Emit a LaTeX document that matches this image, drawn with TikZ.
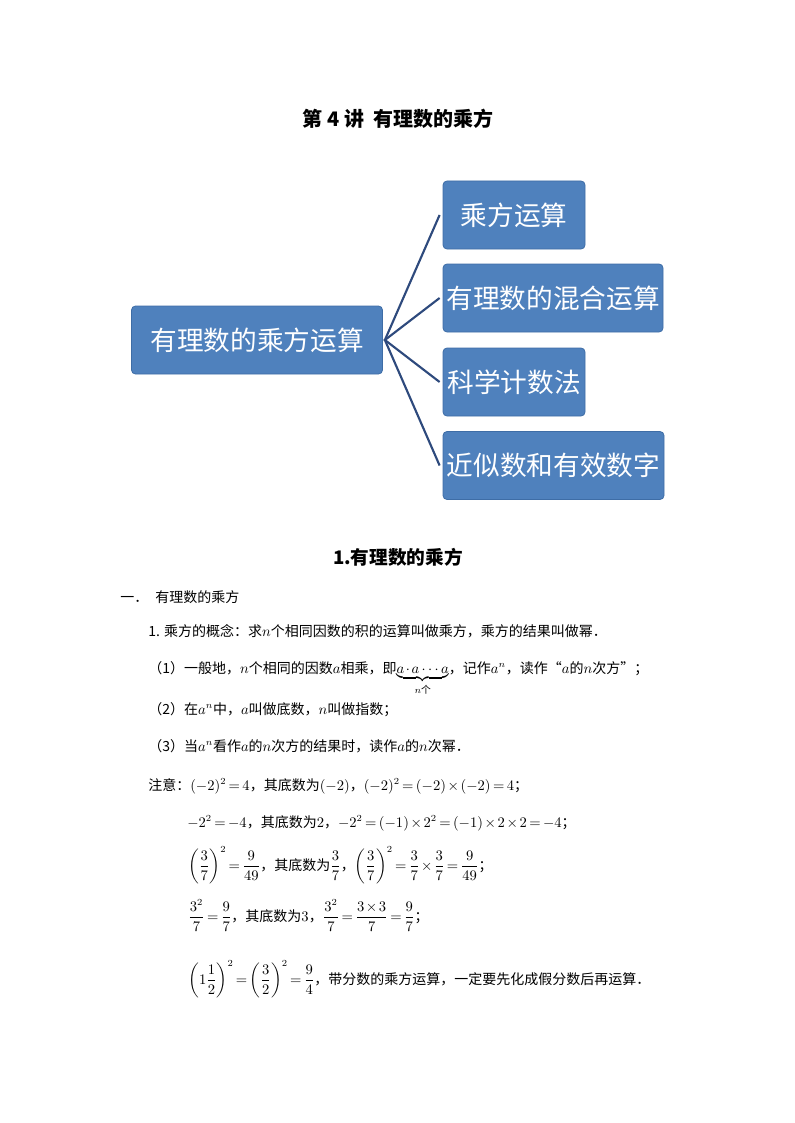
\documentclass[tikz,border=0pt]{standalone}
\usepackage{amsmath}
\usepackage{fontspec}
\setmainfont{Noto Sans CJK SC}
\usetikzlibrary{calc}
\definecolor{boxblue}{HTML}{4F81BD}
\definecolor{boxedge}{HTML}{3E6DA6}
\definecolor{linknavy}{HTML}{2E4A7D}
\tikzset{
  mapbox/.style={draw=boxedge, line width=0.6pt, fill=boxblue, rounded corners=3pt, text=white, font=\fontsize{20}{24}\selectfont, inner sep=0pt, align=center},
  link/.style={draw=linknavy, line width=1.6pt},
  body/.style={anchor=base west, inner sep=0pt, font=\fontsize{10.5}{13}\selectfont},
  heading/.style={inner sep=0pt, font=\bfseries\fontsize{14}{17}\selectfont}
}
\thickmuskip=3mu plus 1mu
\medmuskip=2mu plus 1mu
\begin{document}
\begin{tikzpicture}[x=0.75pt,y=-0.75pt]
\useasboundingbox (0,0) rectangle (794,1123);
\node[heading, font=\bfseries\fontsize{15}{18}\selectfont] (title) at (398,119) {第 4 讲\ \ 有理数的乘方};

% mind map
\node[mapbox, minimum width=251*0.75pt, minimum height=68*0.75pt] (root) at (257,340) {有理数的乘方运算};
\node[mapbox, minimum width=142*0.75pt, minimum height=68*0.75pt] (c1) at (514,215) {乘方运算};
\node[mapbox, minimum width=220*0.75pt, minimum height=68*0.75pt] (c2) at (553,298) {有理数的混合运算};
\node[mapbox, minimum width=142*0.75pt, minimum height=68*0.75pt] (c3) at (514,382) {科学计数法};
\node[mapbox, minimum width=221*0.75pt, minimum height=68*0.75pt] (c4) at (553.5,465.5) {近似数和有效数字};
\coordinate (e1) at ($(c1.west)+(-3,0)$);
\coordinate (e2) at ($(c2.west)+(-3,0)$);
\coordinate (e3) at ($(c3.west)+(-3,0)$);
\coordinate (e4) at ($(c4.west)+(-3,0)$);
\coordinate (s) at ($(root.east)+(2,0)$);
\draw[link] (e1) -- (s) -- (e4);
\draw[link] (e2) -- (s) -- (e3);

\node[heading] (sec) at (398,557) {1.有理数的乘方};

\node[body] (l0a) at (120,602) {一．};
\node[body] (l0b) at (155,602) {有理数的乘方};
\node[body] (l1) at (148,636) {1. 乘方的概念：求$n$个相同因数的积的运算叫做乘方，乘方的结果叫做幂．};
\node[body] (l2) at (148,673) {（1）一般地，$n$个相同的因数$a$相乘，即$\underbrace{a\cdot a\cdots a}_{n\text{个}}$，记作$a^n$，读作“$a$的$n$次方”；};
\node[body] (l3) at (148,714) {（2）在$a^n$中，$a$叫做底数，$n$叫做指数；};
\node[body] (l4) at (148,751) {（3）当$a^n$看作$a$的$n$次方的结果时，读作$a$的$n$次幂．};
\node[body] (l5) at (148,790) {注意：$(-2)^2=4$，其底数为$(-2)$，$(-2)^2=(-2)\times(-2)=4$；};
\node[body] (l6) at (187,827) {$-2^2=-4$，其底数为$2$，$-2^2=(-1)\times2^2=(-1)\times2\times2=-4$；};
\node[body] (l7) at (188,870) {$\left(\dfrac{3}{7}\right)^2=\dfrac{9}{49}$，其底数为$\dfrac{3}{7}$，$\left(\dfrac{3}{7}\right)^2=\dfrac{3}{7}\times\dfrac{3}{7}=\dfrac{9}{49}$；};
\node[body] (l8) at (188,921) {$\dfrac{3^2}{7}=\dfrac{9}{7}$，其底数为$3$，$\dfrac{3^2}{7}=\dfrac{3\times3}{7}=\dfrac{9}{7}$；};
\node[body] (l9) at (188,984) {$\left(1\dfrac{1}{2}\right)^2=\left(\dfrac{3}{2}\right)^2=\dfrac{9}{4}$，带分数的乘方运算，一定要先化成假分数后再运算．};
\end{tikzpicture}
\end{document}
